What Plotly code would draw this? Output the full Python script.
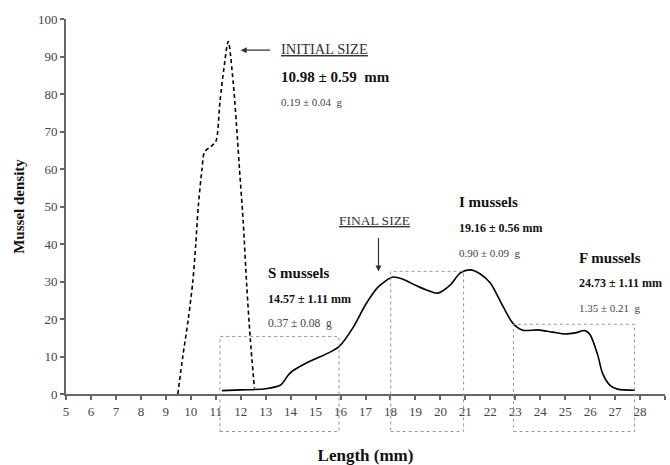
import plotly.graph_objects as go

# Initial size distribution (dashed)
init_x = [9.48, 9.68, 9.9, 10.08, 10.2, 10.3, 10.45, 10.55, 10.8, 11.0, 11.17, 11.33, 11.5, 11.7, 11.87, 11.95, 12.1, 12.24, 12.38, 12.55]
init_y = [0, 10, 20, 30, 40, 50, 60, 64.5, 66, 67.3, 78, 87, 94, 83, 68, 60, 46, 29, 15, 1.5]

# Final size distribution (solid)
final_x = [11.25, 12, 13, 13.6, 13.9, 14.05, 14.5, 15.0, 15.5, 15.95, 16.5, 17.0, 17.5, 18.1, 18.5, 19.0, 19.5, 19.9, 20.4, 20.8, 21.2, 21.6, 22.0, 22.5, 22.9, 23.3, 23.9, 24.5, 25.0, 25.4, 25.8, 26.0, 26.3, 26.5, 26.8, 27.1, 27.8]
final_y = [0.9, 1.1, 1.4, 2.4, 5.0, 6.0, 7.8, 9.4, 10.9, 12.7, 17.7, 23.8, 28.5, 31.2, 30.6, 29.0, 27.6, 26.9, 29.1, 32.3, 33.1, 32.0, 29.6, 23.5, 18.9, 17.0, 17.1, 16.5, 16.0, 16.3, 16.9, 15.8, 10.5, 5.5, 2.3, 1.3, 1.0]

# Group boxes: (x0, x1, top)
box_x0 = [11.17, 18.01, 22.93]
box_x1 = [15.94, 20.93, 27.78]
box_top = [15.35, 32.7, 18.6]
box_bottom = -10

x_ticks = list(range(5, 30))
y_ticks = list(range(0, 101, 10))

SERIF = "Liberation Serif, Times New Roman, serif"

fig = go.Figure()
fig.add_trace(go.Scatter(x=init_x, y=init_y, mode="lines",
                         line=dict(color="black", width=1.6, dash="4px,3px", shape="spline", smoothing=0.8),
                         showlegend=False, hoverinfo="skip"))
fig.add_trace(go.Scatter(x=final_x, y=final_y, mode="lines",
                         line=dict(color="black", width=1.6, shape="spline", smoothing=0.8),
                         showlegend=False, hoverinfo="skip"))

for x0, x1, top in zip(box_x0, box_x1, box_top):
    fig.add_shape(type="rect", xref="x", yref="paper", x0=x0, x1=x1,
                  y0=box_bottom / 100, y1=top / 100,
                  line=dict(color="#999999", width=1, dash="dot"), layer="above")

annots = [
    # text, x, y, size, bold, color
    ("<u>INITIAL SIZE</u>", 13.54, 92.0, 14.5, False, "#333333"),
    ("10.98 ± 0.59  mm", 13.54, 84.6, 15, True, "#111111"),
    ("0.19 ± 0.04  g", 13.54, 78.0, 11, False, "#444444"),
    ("<u>FINAL SIZE</u>", 15.87, 46.3, 13.5, False, "#333333"),
    ("S mussels", 13.02, 32.2, 15, True, "#111111"),
    ("14.57 ± 1.11 mm", 13.02, 25.4, 12, True, "#111111"),
    ("0.37 ± 0.08  g", 13.02, 18.7, 11.5, False, "#444444"),
    ("I mussels", 20.68, 51.3, 15, True, "#111111"),
    ("19.16 ± 0.56 mm", 20.68, 44.2, 12, True, "#111111"),
    ("0.90 ± 0.09  g", 20.68, 37.7, 11, False, "#444444"),
    ("F mussels", 25.47, 36.2, 15, True, "#111111"),
    ("24.73 ± 1.11 mm", 25.47, 29.6, 12, True, "#111111"),
    ("1.35 ± 0.21  g", 25.47, 22.9, 11, False, "#444444"),
]
for t, x, y, s, b, c in annots:
    fig.add_annotation(x=x, y=y, xref="x", yref="y", text=("<b>%s</b>" % t) if b else t,
                       showarrow=False, xanchor="left", yanchor="middle",
                       font=dict(family=SERIF, size=s, color=c))

# arrows
fig.add_annotation(x=12.0, y=91.7, ax=13.24, ay=91.7, xref="x", yref="y", axref="x", ayref="y",
                   text="", showarrow=True, arrowhead=2, arrowsize=1, arrowwidth=1.2,
                   arrowcolor="#333333", standoff=0, startstandoff=0)
fig.add_annotation(x=17.52, y=32.7, ax=17.52, ay=42.0, xref="x", yref="y", axref="x", ayref="y",
                   text="", showarrow=True, arrowhead=2, arrowsize=1, arrowwidth=1.2,
                   arrowcolor="#333333", standoff=0, startstandoff=0)

fig.update_layout(
    width=670, height=465,
    margin=dict(l=66, r=5, t=19, b=71),
    paper_bgcolor="white", plot_bgcolor="white",
    font=dict(family=SERIF, color="#333333"),
    xaxis=dict(range=[5, 29], tickvals=x_ticks, ticktext=[str(v) for v in x_ticks],
               automargin=False,
               showgrid=False, zeroline=False, showline=True, linecolor="#666666", linewidth=2,
               ticks="outside", ticklen=4, tickwidth=1.5, tickcolor="#666666",
               tickfont=dict(family=SERIF, size=13, color="#444444"),
               title=dict(text="<b>Length (mm)</b>", font=dict(family=SERIF, size=17, color="#111111"), standoff=32)),
    yaxis=dict(range=[0, 100], tickvals=y_ticks, ticktext=[str(v) for v in y_ticks],
               automargin=False,
               showgrid=False, zeroline=False, showline=True, linecolor="#666666", linewidth=2,
               ticks="outside", ticklen=4, tickwidth=1.5, tickcolor="#666666",
               tickfont=dict(family=SERIF, size=13, color="#444444"),
               title=dict(text="<b>Mussel density</b>", font=dict(family=SERIF, size=15, color="#111111"), standoff=10)),
)

fig.write_html("out.html")
